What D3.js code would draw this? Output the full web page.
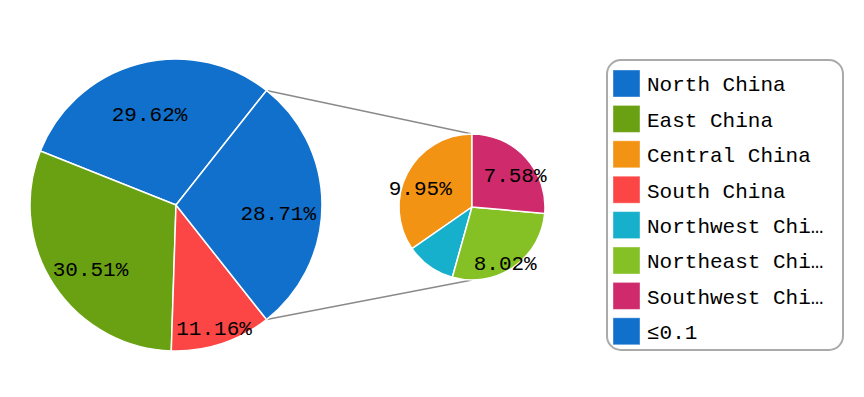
<!DOCTYPE html>
<html lang="en">
<head>
    <meta charset="UTF-8">
    <title>Pie of Pie - Regions</title>
    <style>
        body
        {
            margin: 0;
            background: #fff;
        }

        text
        {
            font-family: "Liberation Mono", "DejaVu Sans Mono", monospace;
            font-size: 21px;
            fill: #000;
        }
    </style>
</head>
<body>

    <svg width="864" height="397"></svg>

    <script src="https://d3js.org/d3.v7.min.js"></script>

    <script>

        // Main pie (percent of total)
        const mainNames = ['North China', 'East China', 'South China', '≤0.1'];
        const mainValues = [29.62, 30.51, 11.16, 28.71];

        // Second pie breaks down the "≤0.1" slice
        const subNames = ['Central China', 'Northwest China', 'Northeast China', 'Southwest China'];
        const subValues = [9.95, 3.16, 8.02, 7.58];

        const legendNames = ['North China', 'East China', 'Central China', 'South China',
            'Northwest China', 'Northeast China', 'Southwest China', '≤0.1'];

        const colorRange = ['#1170cb', '#6aa112', '#f39313', '#fc4646',
            '#16b0cc', '#85c124', '#cf2a6b', '#1170cb'];

        const color = d3.scaleOrdinal()
            .domain(legendNames)
            .range(colorRange);

        const svg = d3.select('svg');

        // Layout
        const main = { cx: 176, cy: 205, r: 146 };
        const sub = { cx: 472, cy: 207, r: 73 };

        // Helper: angle (clockwise from 12 o'clock) to point
        const pointAt = function (c, a, r) {
            return [c.cx + r * Math.sin(a), c.cy - r * Math.cos(a)];
        };

        // Main pie goes counter clockwise, last slice centred at 3 o'clock
        const lastShare = mainValues[mainValues.length - 1] / d3.sum(mainValues);
        const mainStart = 2.5 * Math.PI - lastShare * Math.PI;

        const mainPie = d3.pie()
            .sort(null)
            .value(function (d) { return d.value; })
            .startAngle(mainStart)
            .endAngle(mainStart - 2 * Math.PI);

        const subPie = d3.pie()
            .sort(null)
            .value(function (d) { return d.value; })
            .startAngle(2 * Math.PI)
            .endAngle(0);

        const mainData = mainPie(mainNames.map(function (n, i) {
            return { name: n, value: mainValues[i] };
        }));
        const subData = subPie(subNames.map(function (n, i) {
            return { name: n, value: subValues[i] };
        }));

        // Connector lines from the "≤0.1" slice to the second pie.
        // Counter clockwise, so endAngle is the upper edge of the slice.
        const other = mainData[mainData.length - 1];
        const connectors = [
            [pointAt(main, other.endAngle, main.r), pointAt(sub, 0, sub.r)],
            [pointAt(main, other.startAngle, main.r), pointAt(sub, Math.PI, sub.r)]
        ];

        svg.append('g')
            .selectAll('line')
            .data(connectors)
            .enter()
            .append('line')
            .attr('x1', function (d) { return d[0][0]; })
            .attr('y1', function (d) { return d[0][1]; })
            .attr('x2', function (d) { return d[1][0]; })
            .attr('y2', function (d) { return d[1][1]; })
            .attr('stroke', '#8a8a8a')
            .attr('stroke-width', 1.5);

        const drawPie = function (c, data, labelFactor, fitLabels) {
            const g = svg.append('g')
                .attr('transform', 'translate(' + c.cx + ' ' + c.cy + ')');

            const arc = d3.arc().innerRadius(0).outerRadius(c.r);

            g.selectAll('path')
                .data(data)
                .enter()
                .append('path')
                .attr('d', arc)
                .attr('fill', function (d) { return color(d.data.name); })
                .attr('stroke', '#fff')
                .attr('stroke-width', 1.5);

            // small slices get no label
            const labels = g.selectAll('text')
                .data(data.filter(function (d) { return d.data.value >= 5; }))
                .enter()
                .append('text')
                .text(function (d) { return d.data.value.toFixed(2) + '%'; })
                .attr('text-anchor', 'middle')
                .attr('dy', '0.7em');

            labels.each(function (d) {
                let rho = labelFactor * c.r;
                if (fitLabels) {
                    // push the label outward until it fits the slice width
                    const w = this.getComputedTextLength();
                    const half = Math.abs(d.endAngle - d.startAngle) / 2;
                    rho = Math.max(rho, (w + 8) / (2 * Math.sin(half)));
                }
                const a = (d.startAngle + d.endAngle) / 2;
                d3.select(this)
                    .attr('x', rho * Math.sin(a))
                    .attr('y', -rho * Math.cos(a));
            });
        };

        drawPie(main, mainData, 0.7, true);
        drawPie(sub, subData, 0.8, false);

        // Legend
        const legend = svg.append('g')
            .attr('transform', 'translate(607 60)');

        legend.append('rect')
            .attr('width', 236)
            .attr('height', 290)
            .attr('rx', 14)
            .attr('fill', '#fff')
            .attr('stroke', '#aaa')
            .attr('stroke-width', 2);

        const rowY = d3.scaleBand()
            .domain(legendNames)
            .range([8, 8 + 35.4 * legendNames.length]);

        const rows = legend.selectAll('.row')
            .data(legendNames)
            .enter()
            .append('g')
            .attr('class', 'row')
            .attr('transform', function (d) {
                return 'translate(6 ' + rowY(d) + ')';
            });

        rows.append('rect')
            .attr('y', 2)
            .attr('width', 27)
            .attr('height', 27)
            .attr('fill', function (d) { return color(d); })
            .attr('stroke', '#fff')
            .attr('stroke-opacity', 0.4);

        rows.append('text')
            .attr('x', 34)
            .attr('y', 16)
            .attr('dy', '0.35em')
            .text(function (d) {
                return d.length > 13 ? d.slice(0, 13) + '…' : d;
            });

    </script>

</body>
</html>
